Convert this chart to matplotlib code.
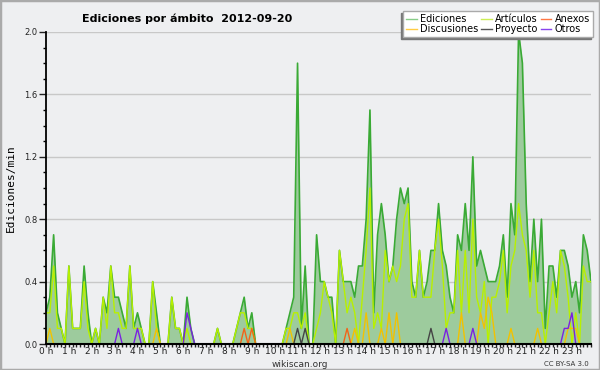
import numpy as np
import matplotlib
matplotlib.use("Agg")
from matplotlib import pyplot as plt
from matplotlib.ticker import MultipleLocator, FixedLocator

# one value every 10 minutes (edits/min), 144 samples for the day
ediciones = [
    0.2, 0.3, 0.7, 0.2, 0.1, 0.0, 0.5, 0.1, 0.1, 0.1, 0.5, 0.2,
    0.0, 0.1, 0.0, 0.3, 0.2, 0.5, 0.3, 0.3, 0.2, 0.1, 0.5, 0.1,
    0.2, 0.1, 0.0, 0.0, 0.4, 0.2, 0.0, 0.0, 0.0, 0.3, 0.1, 0.1,
    0.0, 0.3, 0.1, 0.0, 0.0, 0.0, 0.0, 0.0, 0.0, 0.1, 0.0, 0.0,
    0.0, 0.0, 0.1, 0.2, 0.3, 0.1, 0.2, 0.0, 0.0, 0.0, 0.0, 0.0,
    0.0, 0.0, 0.0, 0.1, 0.2, 0.3, 1.8, 0.1, 0.5, 0.0, 0.0, 0.7,
    0.4, 0.4, 0.3, 0.3, 0.0, 0.6, 0.4, 0.4, 0.4, 0.3, 0.5, 0.5,
    0.8, 1.5, 0.2, 0.7, 0.9, 0.7, 0.4, 0.5, 0.8, 1.0, 0.9, 1.0,
    0.4, 0.3, 0.6, 0.3, 0.4, 0.6, 0.6, 0.9, 0.6, 0.5, 0.3, 0.2,
    0.7, 0.6, 0.9, 0.6, 1.2, 0.5, 0.6, 0.5, 0.4, 0.4, 0.4, 0.5,
    0.7, 0.3, 0.9, 0.7, 2.0, 1.8, 0.9, 0.4, 0.8, 0.4, 0.8, 0.1,
    0.5, 0.5, 0.3, 0.6, 0.6, 0.5, 0.3, 0.4, 0.2, 0.7, 0.6, 0.4,
]
articulos = [
    0.2, 0.2, 0.5, 0.1, 0.1, 0.0, 0.5, 0.1, 0.1, 0.1, 0.4, 0.1,
    0.0, 0.1, 0.0, 0.3, 0.1, 0.5, 0.2, 0.2, 0.1, 0.1, 0.5, 0.1,
    0.1, 0.1, 0.0, 0.0, 0.4, 0.1, 0.0, 0.0, 0.0, 0.3, 0.1, 0.1,
    0.0, 0.1, 0.0, 0.0, 0.0, 0.0, 0.0, 0.0, 0.0, 0.1, 0.0, 0.0,
    0.0, 0.0, 0.1, 0.2, 0.2, 0.1, 0.1, 0.0, 0.0, 0.0, 0.0, 0.0,
    0.0, 0.0, 0.0, 0.1, 0.1, 0.2, 0.2, 0.1, 0.2, 0.0, 0.0, 0.1,
    0.2, 0.4, 0.3, 0.2, 0.0, 0.6, 0.4, 0.2, 0.3, 0.2, 0.0, 0.3,
    0.6, 1.0, 0.1, 0.2, 0.1, 0.6, 0.4, 0.5, 0.4, 0.5, 0.8, 0.9,
    0.3, 0.3, 0.6, 0.3, 0.3, 0.3, 0.6, 0.8, 0.5, 0.1, 0.2, 0.2,
    0.6, 0.2, 0.6, 0.2, 0.8, 0.3, 0.2, 0.4, 0.0, 0.3, 0.3, 0.4,
    0.6, 0.2, 0.5, 0.6, 0.9, 0.7, 0.6, 0.3, 0.6, 0.2, 0.2, 0.0,
    0.2, 0.4, 0.2, 0.6, 0.5, 0.3, 0.0, 0.2, 0.0, 0.5, 0.4, 0.4,
]
discusiones = [
    0, 0.1, 0, 0, 0, 0, 0, 0, 0, 0, 0, 0,
    0, 0, 0, 0, 0, 0, 0, 0, 0, 0, 0, 0,
    0, 0, 0, 0, 0, 0.1, 0, 0, 0, 0, 0, 0,
    0, 0, 0, 0, 0, 0, 0, 0, 0, 0, 0, 0,
    0, 0, 0, 0, 0, 0, 0, 0, 0, 0, 0, 0,
    0, 0, 0, 0, 0.1, 0, 0, 0, 0, 0, 0, 0,
    0, 0, 0, 0, 0, 0, 0, 0, 0, 0.1, 0, 0,
    0.2, 0, 0, 0, 0.1, 0, 0.2, 0, 0.2, 0, 0, 0,
    0, 0, 0, 0, 0, 0, 0, 0, 0, 0, 0, 0,
    0, 0.2, 0, 0, 0, 0, 0.2, 0.1, 0.3, 0.2, 0, 0,
    0, 0, 0.1, 0, 0, 0, 0, 0, 0, 0.1, 0, 0,
    0, 0, 0, 0, 0, 0.1, 0.1, 0.1, 0, 0, 0, 0,
]
proyecto = [
    0, 0, 0, 0, 0, 0, 0, 0, 0, 0, 0, 0,
    0, 0, 0, 0, 0, 0, 0, 0, 0, 0, 0, 0,
    0, 0, 0, 0, 0, 0, 0, 0, 0, 0, 0, 0,
    0, 0, 0, 0, 0, 0, 0, 0, 0, 0, 0, 0,
    0, 0, 0, 0, 0, 0, 0, 0, 0, 0, 0, 0,
    0, 0, 0, 0, 0, 0, 0.1, 0, 0.1, 0, 0, 0,
    0, 0, 0, 0, 0, 0, 0, 0, 0, 0, 0, 0,
    0, 0, 0, 0, 0, 0, 0, 0, 0, 0, 0, 0,
    0, 0, 0, 0, 0, 0.1, 0, 0, 0, 0, 0, 0,
    0, 0, 0, 0, 0, 0, 0, 0, 0, 0, 0, 0,
    0, 0, 0, 0, 0, 0, 0, 0, 0, 0, 0, 0,
    0, 0, 0, 0, 0, 0, 0, 0, 0, 0, 0, 0,
]
anexos = [
    0, 0, 0, 0, 0, 0, 0, 0, 0, 0, 0, 0,
    0, 0, 0, 0, 0, 0, 0, 0, 0, 0, 0, 0,
    0, 0, 0, 0, 0, 0, 0, 0, 0, 0, 0, 0,
    0, 0, 0, 0, 0, 0, 0, 0, 0, 0, 0, 0,
    0, 0, 0, 0, 0.1, 0, 0.1, 0, 0, 0, 0, 0,
    0, 0, 0, 0, 0, 0, 0, 0, 0, 0, 0, 0,
    0, 0, 0, 0, 0, 0, 0, 0.1, 0, 0, 0, 0,
    0, 0, 0, 0, 0, 0, 0, 0, 0, 0, 0, 0,
    0, 0, 0, 0, 0, 0, 0, 0, 0, 0, 0, 0,
    0, 0, 0, 0, 0, 0, 0, 0, 0, 0, 0, 0,
    0, 0, 0, 0, 0, 0, 0, 0, 0, 0, 0, 0,
    0, 0, 0, 0, 0, 0, 0, 0, 0, 0, 0, 0,
]
otros = [
    0, 0, 0, 0, 0, 0, 0, 0, 0, 0, 0, 0,
    0, 0, 0, 0, 0, 0, 0, 0.1, 0, 0, 0, 0,
    0.1, 0, 0, 0, 0, 0, 0, 0, 0, 0, 0, 0,
    0, 0.2, 0.1, 0, 0, 0, 0, 0, 0, 0, 0, 0,
    0, 0, 0, 0, 0, 0, 0, 0, 0, 0, 0, 0,
    0, 0, 0, 0, 0, 0, 0, 0, 0, 0, 0, 0,
    0, 0, 0, 0, 0, 0, 0, 0, 0, 0, 0, 0,
    0, 0, 0, 0, 0, 0, 0, 0, 0, 0, 0, 0,
    0, 0, 0, 0, 0, 0, 0, 0, 0, 0.1, 0, 0,
    0, 0, 0, 0, 0.1, 0, 0, 0, 0, 0, 0, 0,
    0, 0, 0, 0, 0, 0, 0, 0, 0, 0, 0, 0,
    0, 0, 0, 0, 0.1, 0.1, 0.2, 0, 0, 0, 0, 0,
]
hour_labels = ["%d h" % h for h in range(24)]

x = np.arange(len(ediciones)) / 6.0


def hide_flat_zero(v):
    # don't draw a series where it just sits on the baseline
    v = np.array(v, dtype=float)
    out = v.copy()
    for i in range(len(v)):
        left = v[i - 1] if i > 0 else 0
        right = v[i + 1] if i < len(v) - 1 else 0
        if v[i] == 0 and left == 0 and right == 0:
            out[i] = np.nan
    return out


bg = "#eeeff1"
fig = plt.figure(figsize=(6, 3.7), dpi=100, facecolor=bg)
ax = fig.add_axes([46 / 600, 1 - 344 / 370, 545 / 600, (344 - 32) / 370])
ax.set_facecolor(bg)

ax.fill_between(x, 0, ediciones, color="#9dcb9d", lw=0, zorder=1)
ax.plot(x, hide_flat_zero(ediciones), color="#3aaa35", lw=1.2, zorder=2)
ax.plot(x, hide_flat_zero(articulos), color="#b8f000", lw=1.0, zorder=2)
ax.plot(x, hide_flat_zero(discusiones), color="#f2c200", lw=1.0, zorder=2)
ax.plot(x, hide_flat_zero(proyecto), color="#444444", lw=1.0, zorder=2)
ax.plot(x, hide_flat_zero(anexos), color="#f26418", lw=1.0, zorder=2)
ax.plot(x, hide_flat_zero(otros), color="#7a22e0", lw=1.0, zorder=2)

ax.set_xlim(0, x[-1])
ax.set_ylim(0, 2.0)
ax.yaxis.set_major_locator(MultipleLocator(0.4))
ax.yaxis.set_minor_locator(MultipleLocator(0.1))
ax.set_yticklabels(["%.1f" % t for t in ax.get_yticks()])
ax.xaxis.set_major_locator(FixedLocator(range(24)))
ax.set_xticklabels(hour_labels)
ax.xaxis.set_minor_locator(MultipleLocator(1 / 6))
ax.grid(axis="y", which="major", color="#c8c8c8", lw=1, zorder=0)
ax.set_axisbelow(True)

for s in ["top", "right"]:
    ax.spines[s].set_visible(False)
ax.spines["left"].set_linewidth(1.3)
ax.spines["bottom"].set_linewidth(1.5)
ax.tick_params(axis="y", which="major", length=5, width=1, labelsize=6, pad=1, colors="#222222")
ax.tick_params(axis="y", which="minor", length=2.5, width=1)
ax.tick_params(axis="x", which="both", length=2.5, width=1, labelsize=6.5, pad=0, colors="#222222")

ax.set_ylabel("Ediciones/min", family="DejaVu Sans Mono", fontsize=8, labelpad=6)

fig.text(0.312, 0.948, "Ediciones por ámbito  2012-09-20", fontsize=8, fontweight="bold",
         ha="center", va="center")
fig.text(0.5, 0.016, "wikiscan.org", fontsize=6.5, ha="center", va="center", color="#333333")
fig.text(0.982, 0.016, "CC BY-SA 3.0", fontsize=5, ha="right", va="center", color="#333333")

handles = [
    plt.Line2D([], [], color="#88cc88", lw=1),
    plt.Line2D([], [], color="#ffcc44", lw=1),
    plt.Line2D([], [], color="#ccee55", lw=1),
    plt.Line2D([], [], color="#555555", lw=1),
    plt.Line2D([], [], color="#ff7744", lw=1),
    plt.Line2D([], [], color="#8844ee", lw=1),
]
labels = ["Ediciones", "Discusiones", "Artículos", "Proyecto", "Anexos", "Otros"]
leg = fig.legend(handles, labels, ncol=3, loc="upper right",
                 bbox_to_anchor=(593 / 600, 1 - 11 / 370), fontsize=7,
                 frameon=True, fancybox=False, framealpha=1, edgecolor="#aaaaaa",
                 handlelength=1.1, handletextpad=0.35, columnspacing=0.3,
                 labelspacing=0.05, borderpad=0.3, borderaxespad=0,
                 shadow={"ox": -1.2, "oy": -1.2, "color": "#777777", "alpha": 1})
leg.get_frame().set_linewidth(1)

# outer border
fig.patches.append(plt.Rectangle((0, 0), 1, 1, transform=fig.transFigure, fill=False,
                                 edgecolor="#aaaaaa", lw=2.5))

fig.savefig("out.png", dpi=100, facecolor=bg)
